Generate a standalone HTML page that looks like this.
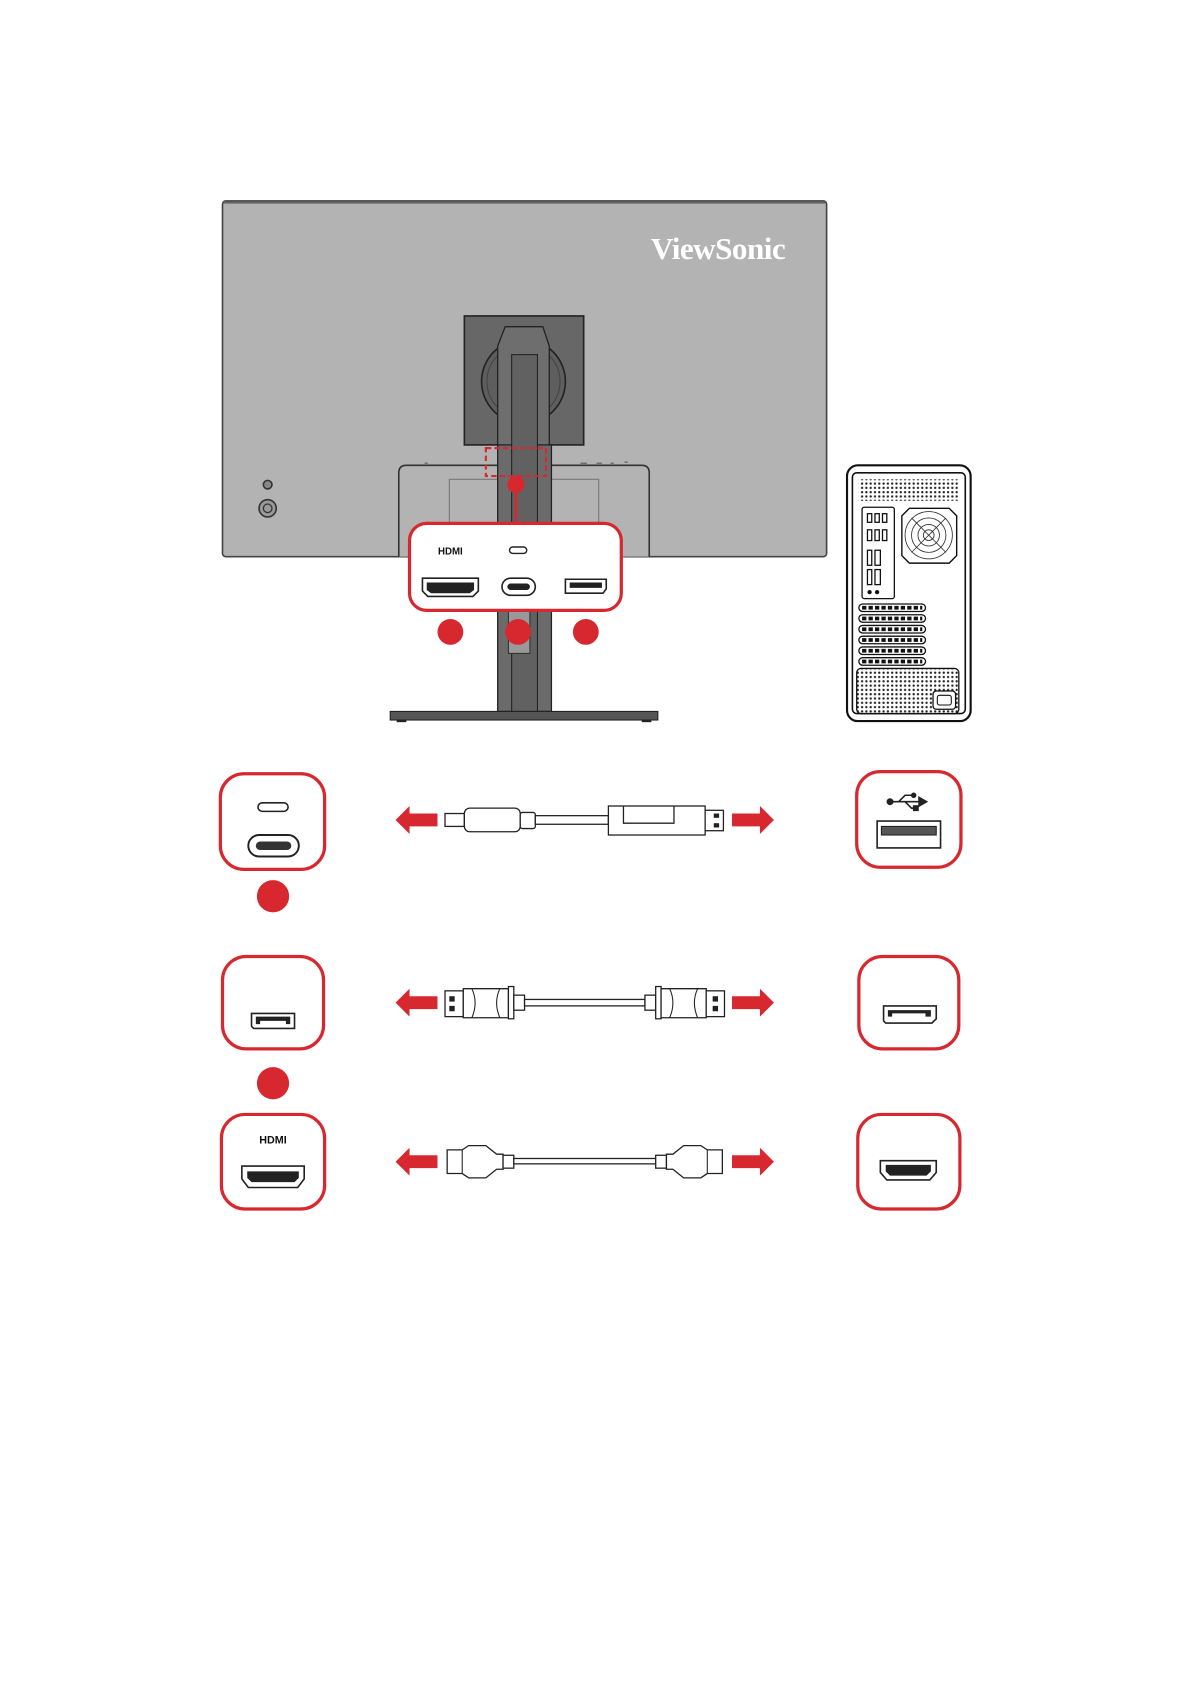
<!DOCTYPE html>
<html><head><meta charset="utf-8"><style>html,body{margin:0;padding:0;background:#fff}svg{display:block}</style></head>
<body>
<svg width="1191" height="1684" viewBox="0 0 1108 1567" preserveAspectRatio="none" xmlns="http://www.w3.org/2000/svg">
<defs>
<pattern id="dots" width="4" height="4" patternUnits="userSpaceOnUse"><rect width="4" height="4" fill="#fff"/><circle cx="2" cy="2" r="1.1" fill="#222"/></pattern>
<g id="larr"><polygon points="0,0 13,-13 13,-6 39,-6 39,6 13,6 13,13" fill="#d7282f"/></g>
<g id="rarr"><polygon points="39,0 26,-13 26,-6 0,-6 0,6 26,6 26,13" fill="#d7282f"/></g>
</defs>
<!-- monitor -->
<rect x="207" y="187" width="562" height="331" rx="3" fill="#b3b3b3" stroke="#444" stroke-width="1.5"/>
<line x1="208" y1="188.5" x2="768" y2="188.5" stroke="#666" stroke-width="2"/>
<text x="668" y="241" font-family="Liberation Serif,serif" font-weight="bold" font-size="29" fill="#fff" text-anchor="middle" letter-spacing="-0.5">ViewSonic</text>
<circle cx="249" cy="451" r="4" fill="#888" stroke="#333" stroke-width="1.5"/>
<circle cx="249" cy="473" r="8" fill="#999" stroke="#333" stroke-width="1.5"/>
<circle cx="249" cy="473" r="4" fill="none" stroke="#333" stroke-width="1.2"/>
<!-- lower bulge -->
<path d="M371,518 V440 Q371,433 378,433 H597 Q604,433 604,440 V518" fill="#b3b3b3" stroke="#333" stroke-width="1.5"/>
<rect x="418" y="446" width="139" height="41" fill="none" stroke="#777" stroke-width="1"/>
<g stroke="#555" stroke-width="1"><line x1="395" y1="431" x2="398" y2="431"/><line x1="540" y1="431" x2="546" y2="431"/><line x1="555" y1="431" x2="560" y2="431"/><line x1="568" y1="431" x2="571" y2="431"/><line x1="581" y1="430" x2="584" y2="430"/></g>
<!-- VESA -->
<rect x="432" y="294" width="111" height="120" fill="#676767" stroke="#222" stroke-width="1.5"/>
<circle cx="487" cy="355" r="39" fill="#5e5e5e" stroke="#222" stroke-width="1.5"/>
<circle cx="487" cy="355" r="34" fill="none" stroke="#444" stroke-width="1"/>
<path d="M463,414 V322 L470,304 H505 L511,322 V414" fill="#6e6e6e" stroke="#222" stroke-width="1.2"/>
<!-- stand -->
<rect x="463" y="414" width="50" height="248" fill="#6b6b6b" stroke="#222" stroke-width="1.2"/>
<rect x="476" y="330" width="24" height="332" fill="#616161" stroke="#222" stroke-width="1"/>
<rect x="473" y="568" width="20" height="40" fill="#999" stroke="#333" stroke-width="1"/>
<rect x="363" y="662" width="249" height="8" fill="#555" stroke="#222" stroke-width="1"/>
<line x1="369" y1="671" x2="378" y2="671" stroke="#222" stroke-width="2"/><line x1="597" y1="671" x2="606" y2="671" stroke="#222" stroke-width="2"/>
<!-- dashed highlight -->
<rect x="452" y="417" width="56" height="26" fill="none" stroke="#d7282f" stroke-width="2" stroke-dasharray="5,3"/>
<line x1="480" y1="451" x2="480" y2="488" stroke="#d7282f" stroke-width="2.5"/>
<circle cx="480" cy="451" r="8" fill="#d7282f"/>
<!-- callout -->
<rect x="381" y="487" width="197" height="81" rx="16" fill="#fff" stroke="#d7282f" stroke-width="3"/>
<text x="419" y="516" font-family="Liberation Sans,sans-serif" font-weight="bold" font-size="9" text-anchor="middle" fill="#111">HDMI</text>
<rect x="474" y="509" width="16" height="6" rx="3" fill="none" stroke="#222" stroke-width="1.3"/>
<path d="M393,538 H445 V550 L440,555 H398 L393,550 Z" fill="#fff" stroke="#222" stroke-width="1.5"/>
<path d="M397,542 H441 V549 L437,552 H401 L397,549 Z" fill="#222"/>
<rect x="467" y="538" width="31" height="16" rx="8" fill="#fff" stroke="#222" stroke-width="1.5"/>
<rect x="472" y="543" width="21" height="6" rx="3" fill="#222"/>
<path d="M526,539 H564 V548 L561,552 H526 Z" fill="#fff" stroke="#222" stroke-width="1.5"/>
<path d="M530,542 H560 V547 H530 Z" fill="#222"/>
<circle cx="419" cy="588" r="12" fill="#d7282f"/>
<circle cx="482" cy="588" r="12" fill="#d7282f"/>
<circle cx="545" cy="588" r="12" fill="#d7282f"/>
<!-- PC tower -->
<rect x="788" y="433" width="115" height="238" rx="10" fill="#fff" stroke="#111" stroke-width="2"/>
<rect x="793" y="440" width="105" height="224" rx="4" fill="#fff" stroke="#111" stroke-width="1.5"/>
<rect x="799" y="446" width="93" height="20" fill="url(#dots)"/>
<rect x="802" y="472" width="30" height="85" rx="2" fill="#fff" stroke="#111" stroke-width="1.2"/>
<g fill="#fff" stroke="#111" stroke-width="1.2">
<rect x="807" y="478" width="4" height="8"/><rect x="814" y="478" width="4" height="8"/><rect x="821" y="478" width="4" height="8"/>
<rect x="807" y="493" width="4" height="10"/><rect x="814" y="493" width="4" height="10"/><rect x="821" y="493" width="4" height="10"/>
<rect x="807" y="512" width="4" height="14"/><rect x="814" y="512" width="5" height="14"/>
<rect x="807" y="530" width="4" height="14"/><rect x="814" y="530" width="5" height="14"/>
</g>
<circle cx="809" cy="551" r="2" fill="#111"/><circle cx="816" cy="551" r="2" fill="#111"/>
<path d="M846,473 H883 L890,480 V517 L883,524 H846 L839,517 V480 Z" fill="#fff" stroke="#111" stroke-width="1.3"/>
<g fill="none" stroke="#333" stroke-width="0.8"><circle cx="864" cy="498" r="22"/><circle cx="864" cy="498" r="16"/><circle cx="864" cy="498" r="10"/><circle cx="864" cy="498" r="5"/><line x1="848" y1="482" x2="880" y2="514"/><line x1="880" y1="482" x2="848" y2="514"/></g>
<g fill="#fff" stroke="#111" stroke-width="1.2">
<rect x="799" y="562" width="62" height="7" rx="3.5"/><rect x="799" y="572" width="62" height="7" rx="3.5"/><rect x="799" y="582" width="62" height="7" rx="3.5"/><rect x="799" y="592" width="62" height="7" rx="3.5"/><rect x="799" y="602" width="62" height="7" rx="3.5"/><rect x="799" y="612" width="62" height="7" rx="3.5"/>
</g>
<g stroke="#111" stroke-width="3.5" stroke-dasharray="4,2"><line x1="802" y1="565.5" x2="858" y2="565.5"/><line x1="802" y1="575.5" x2="858" y2="575.5"/><line x1="802" y1="585.5" x2="858" y2="585.5"/><line x1="802" y1="595.5" x2="858" y2="595.5"/><line x1="802" y1="605.5" x2="858" y2="605.5"/><line x1="802" y1="615.5" x2="858" y2="615.5"/></g>
<rect x="797" y="622" width="95" height="42" rx="4" fill="url(#dots)" stroke="#111" stroke-width="1.2"/>
<rect x="868" y="643" width="21" height="17" rx="3" fill="#fff" stroke="#111" stroke-width="1.2"/>
<rect x="872" y="647" width="13" height="9" rx="2" fill="#fff" stroke="#111" stroke-width="1"/>
<!-- Row 1 -->
<rect x="205" y="720" width="97" height="89" rx="22" fill="#fff" stroke="#d7282f" stroke-width="3"/>
<rect x="240" y="747" width="28" height="8" rx="4" fill="#fff" stroke="#222" stroke-width="1.5"/>
<rect x="231" y="777" width="47" height="20" rx="10" fill="#fff" stroke="#222" stroke-width="1.8"/>
<rect x="238" y="783" width="33" height="8" rx="4" fill="#333"/>
<circle cx="254" cy="834" r="15" fill="#d7282f"/>
<use href="#larr" x="368" y="763"/>
<rect x="414" y="757" width="18" height="12" fill="#fff" stroke="#222" stroke-width="1.2"/>
<rect x="432" y="752" width="52" height="22" rx="5" fill="#fff" stroke="#222" stroke-width="1.2"/>
<rect x="484" y="756" width="14" height="15" rx="2" fill="#fff" stroke="#222" stroke-width="1.2"/>
<rect x="498" y="759" width="68" height="8" fill="#fff" stroke="#222" stroke-width="1.2"/>
<rect x="566" y="750" width="90" height="27" fill="#fff" stroke="#222" stroke-width="1.2"/>
<polyline points="580,750 580,766 627,766 627,750" fill="none" stroke="#222" stroke-width="1.2"/>
<rect x="656" y="754" width="17" height="19" fill="#fff" stroke="#222" stroke-width="1.2"/>
<rect x="664" y="757" width="5" height="4" fill="#222"/><rect x="664" y="766" width="5" height="4" fill="#222"/>
<use href="#rarr" x="681" y="763"/>
<rect x="797" y="718" width="97" height="89" rx="22" fill="#fff" stroke="#d7282f" stroke-width="3"/>
<g stroke="#222" stroke-width="1.5" fill="#222"><line x1="828" y1="746" x2="858" y2="746"/><polygon points="862,746 855,742 855,750"/><circle cx="828" cy="746" r="2.5"/><polyline points="836,746 842,740 849,740" fill="none"/><circle cx="850" cy="740" r="1.8"/><polyline points="842,746 848,752 851,752" fill="none"/><rect x="850" y="750" width="4" height="4"/></g>
<rect x="816" y="764" width="59" height="25" fill="#fff" stroke="#222" stroke-width="1.5"/>
<rect x="820" y="769" width="51" height="8" fill="#555" stroke="#222" stroke-width="1"/>
<!-- Row 2 -->
<rect x="207" y="890" width="94" height="86" rx="22" fill="#fff" stroke="#d7282f" stroke-width="3"/>
<path d="M234,943 H274 V957 H236 L234,955 Z" fill="#fff" stroke="#222" stroke-width="1.5"/>
<path d="M238,946 H270 V953 H266 V950 H242 V953 H238 Z" fill="#222"/>
<circle cx="254" cy="1008" r="15" fill="#d7282f"/>
<use href="#larr" x="368" y="933"/>
<rect x="414" y="922" width="17" height="24" fill="#fff" stroke="#222" stroke-width="1.2"/>
<rect x="418" y="927" width="5" height="5" fill="#222"/><rect x="418" y="936" width="5" height="5" fill="#222"/>
<path d="M431,920 H473 V947 H431 Z" fill="#fff" stroke="#222" stroke-width="1.2"/>
<path d="M439,920 Q445,933 439,947 M465,920 Q459,933 465,947" fill="none" stroke="#222" stroke-width="1"/>
<rect x="473" y="918" width="5" height="30" fill="#fff" stroke="#222" stroke-width="1.2"/>
<rect x="478" y="926" width="10" height="14" fill="#fff" stroke="#222" stroke-width="1.2"/>
<rect x="488" y="930" width="112" height="6" fill="#fff" stroke="#222" stroke-width="1.2"/>
<rect x="600" y="926" width="10" height="14" fill="#fff" stroke="#222" stroke-width="1.2"/>
<rect x="610" y="918" width="5" height="30" fill="#fff" stroke="#222" stroke-width="1.2"/>
<path d="M615,920 H657 V947 H615 Z" fill="#fff" stroke="#222" stroke-width="1.2"/>
<path d="M623,920 Q629,933 623,947 M649,920 Q643,933 649,947" fill="none" stroke="#222" stroke-width="1"/>
<rect x="657" y="922" width="17" height="24" fill="#fff" stroke="#222" stroke-width="1.2"/>
<rect x="663" y="927" width="5" height="5" fill="#222"/><rect x="663" y="936" width="5" height="5" fill="#222"/>
<use href="#rarr" x="681" y="933"/>
<rect x="799" y="890" width="93" height="86" rx="22" fill="#fff" stroke="#d7282f" stroke-width="3"/>
<path d="M822,936 H871 V948 L867,952 H824 L822,950 Z" fill="#fff" stroke="#222" stroke-width="1.5"/>
<path d="M826,940 H866 V946 H861 V943 H830 V946 H826 Z" fill="#222"/>
<!-- Row 3 -->
<rect x="206" y="1037" width="96" height="88" rx="22" fill="#fff" stroke="#d7282f" stroke-width="3"/>
<text x="254" y="1064" font-family="Liberation Sans,sans-serif" font-weight="bold" font-size="10" text-anchor="middle" fill="#111">HDMI</text>
<path d="M225,1085 H283 V1097 L277,1105 H231 L225,1097 Z" fill="#fff" stroke="#222" stroke-width="1.5"/>
<path d="M230,1090 H278 V1096 L274,1100 H234 L230,1096 Z" fill="#222"/>
<use href="#larr" x="368" y="1081"/>
<path d="M416,1070 H430 L436,1066 H452 L462,1074 H468 V1088 H462 L452,1096 H436 L430,1092 H416 Z" fill="#fff" stroke="#222" stroke-width="1.2"/>
<line x1="430" y1="1070" x2="430" y2="1092" stroke="#222" stroke-width="1"/>
<rect x="468" y="1075" width="10" height="12" fill="#fff" stroke="#222" stroke-width="1.2"/>
<rect x="478" y="1078" width="132" height="5" fill="#fff" stroke="#222" stroke-width="1.2"/>
<rect x="610" y="1075" width="10" height="12" fill="#fff" stroke="#222" stroke-width="1.2"/>
<path d="M672,1070 H658 L652,1066 H636 L626,1074 H620 V1088 H626 L636,1096 H652 L658,1092 H672 Z" fill="#fff" stroke="#222" stroke-width="1.2"/>
<line x1="658" y1="1070" x2="658" y2="1092" stroke="#222" stroke-width="1"/>
<use href="#rarr" x="681" y="1081"/>
<rect x="798" y="1037" width="95" height="88" rx="22" fill="#fff" stroke="#d7282f" stroke-width="3"/>
<path d="M819,1080 H871 V1091 L865,1098 H825 L819,1091 Z" fill="#fff" stroke="#222" stroke-width="1.5"/>
<path d="M824,1084 H866 V1090 L862,1094 H828 L824,1090 Z" fill="#222"/>
</svg>
</body></html>
